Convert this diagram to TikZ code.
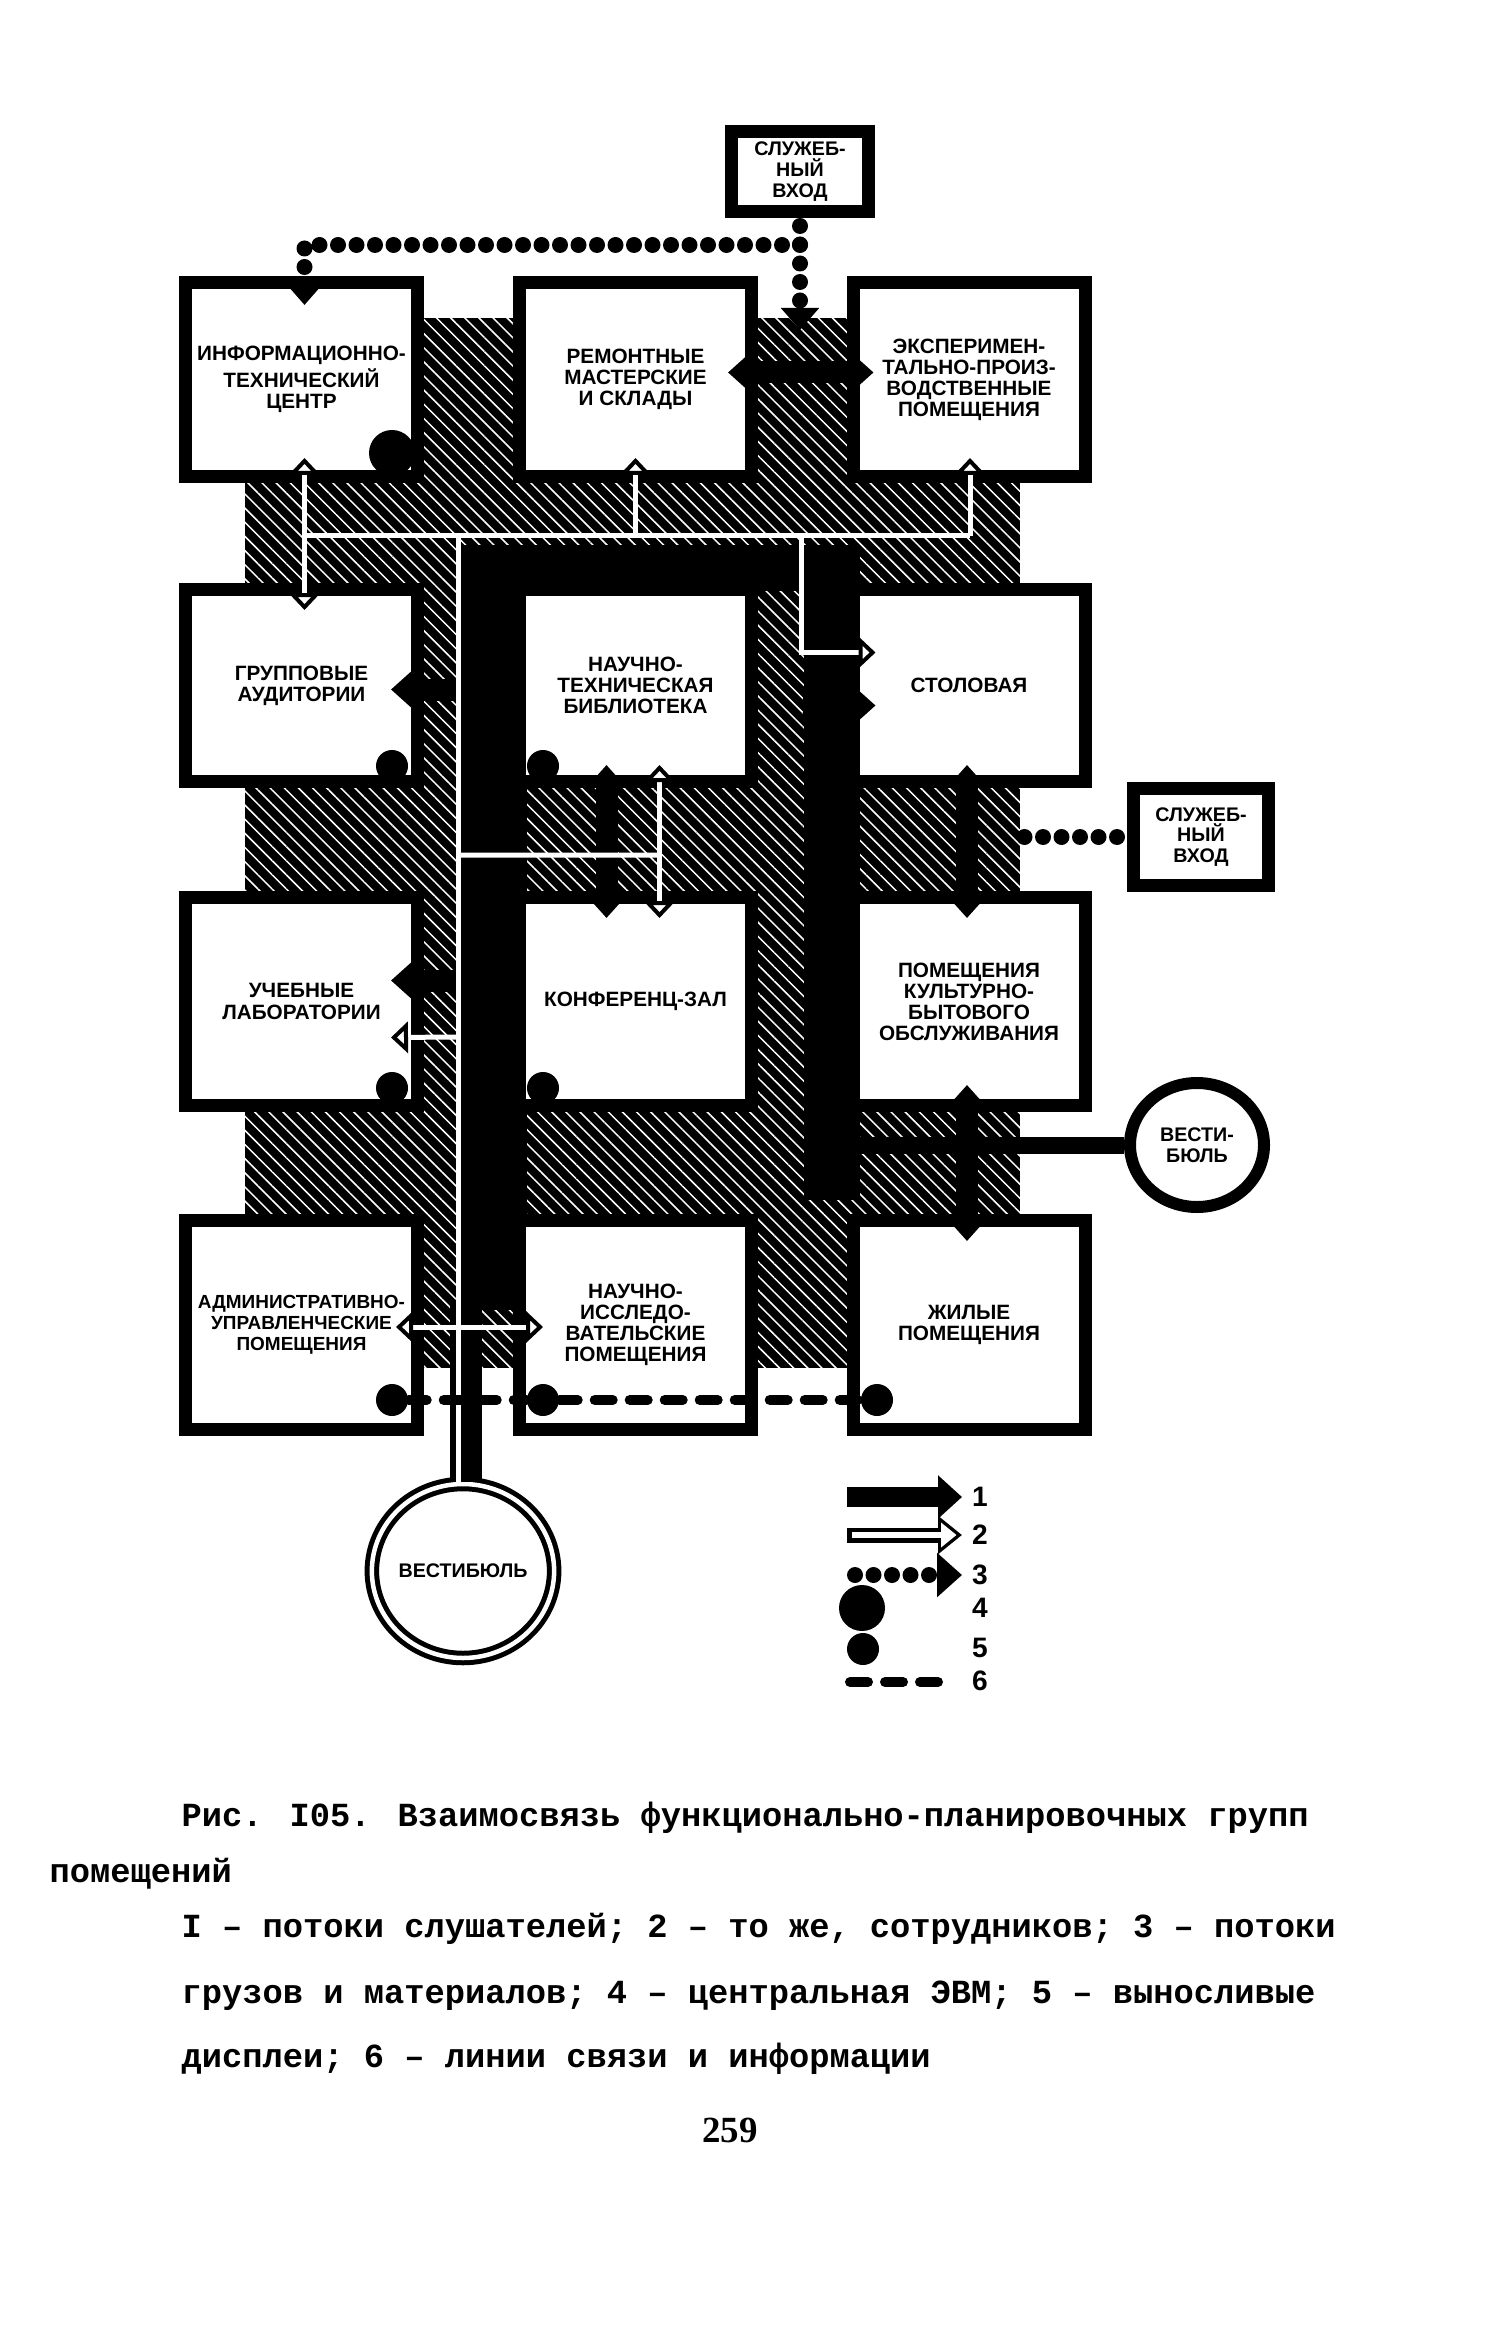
\documentclass[tikz,border=0pt]{standalone}
\usepackage{fontspec}
\newfontfamily\roomfont{Liberation Sans}
\newfontfamily\capfont{Liberation Mono}
\newfontfamily\pagefont{Liberation Serif}
\usetikzlibrary{arrows.meta,shapes.geometric,calc,patterns.meta}

\begin{document}
\begin{tikzpicture}[
    x=0.1mm, y=-0.1mm,
    room/.style={draw, line width=1.3mm, fill=white, minimum width=23.2mm,
                 align=center, inner sep=0pt,
                 font=\roomfont\bfseries\fontsize{5.9}{6}\selectfont},
    entrybox/.style={draw, line width=1.3mm, fill=white, align=center, inner sep=0pt,
                 font=\roomfont\bfseries\fontsize{5.6}{5.9}\selectfont},
    hall/.style={ellipse, draw, fill=white, align=center, inner sep=0pt,
                 font=\roomfont\bfseries\fontsize{5.6}{5.9}\selectfont},
    hatch/.style={pattern={Lines[angle=-45,distance=1mm,line width=0.15mm]},
                  pattern color=white},
    corridor/.style={draw=black, line width=#1},
    flowone/.style={draw=black, line width=2.2mm, -{Triangle[length=2.2mm,width=3.8mm]}},
    flowboth/.style={draw=black, line width=2.2mm,
                 {Triangle[length=2.2mm,width=3.8mm]}-{Triangle[length=2.2mm,width=3.8mm]}},
    flowtwoline/.style={draw=white, line width=0.5mm},
    flowtwo/.style={draw=white, line width=0.5mm,
                 -{Triangle[length=1.7mm,width=3.1mm,color=black,fill=white,line width=0.4mm]}},
    flowtwoboth/.style={draw=white, line width=0.5mm,
                 {Triangle[length=1.7mm,width=3.1mm,color=black,fill=white,line width=0.4mm]}-{Triangle[length=1.7mm,width=3.1mm,color=black,fill=white,line width=0.4mm]}},
    cargo/.style={draw=black, line width=1.6mm, line cap=round, dash pattern=on 0pt off 1.85mm},
    cargotip/.style={cargo, -{Triangle[length=2.2mm,width=3.7mm]}},
    display/.style={circle, fill=black, minimum size=3.2mm, inner sep=0pt},
    computer/.style={circle, fill=black, minimum size=4.6mm, inner sep=0pt},
    infoline/.style={draw=black, line width=1mm, line cap=round, dash pattern=on 1.8mm off 1.7mm},
    legcase/.style={draw=black, line width=1.5mm, -{Triangle[length=2.4mm,width=3.7mm]}},
    legfill/.style={draw=white, line width=0.6mm, shorten <=0.45mm, shorten >=0.55mm,
                 -{Triangle[length=1.55mm,width=2.4mm]}},
    legendno/.style={inner sep=0pt, font=\roomfont\bfseries\fontsize{8}{9}\selectfont},
    caption/.style={anchor=base west, inner sep=0pt,
                 font=\capfont\bfseries\fontsize{9.6}{12}\selectfont}
]
\useasboundingbox (0,0) rectangle (1510,2328);
\fill[white] (0,0) rectangle (1510,2328);

% hatched zone behind the rooms
\fill[black] (245,318) rectangle (1020,1368);
\fill[hatch] (245,318) rectangle (1020,1368);

% main corridors of the students' flow
\coordinate (mainTop) at (493,545);
\coordinate (mainBot) at (493,1310);
\coordinate (rightTop) at (832,545);
\coordinate (rightBot) at (832,1200);
\coordinate (linkL) at (460,568);
\coordinate (linkR) at (860,568);
\draw[corridor=6.7mm] (mainTop) -- (mainBot);
\draw[corridor=5.6mm] (rightTop) -- (rightBot);
\draw[corridor=4.6mm] (linkL) -- (linkR);

% rooms
\node[room, minimum height=19.4mm] (r1c1) at (301.5,379.5) {ИНФОРМАЦИОННО-\\ТЕХНИЧЕСКИЙ\\ЦЕНТР};
\node[room, minimum height=19.4mm] (r1c2) at (635.5,379.5) {РЕМОНТНЫЕ\\МАСТЕРСКИЕ\\И СКЛАДЫ};
\node[room, minimum height=19.4mm] (r1c3) at (969,379.5) {ЭКСПЕРИМЕН-\\ТАЛЬНО-ПРОИЗ-\\ВОДСТВЕННЫЕ\\ПОМЕЩЕНИЯ};
\node[room, minimum height=19.2mm] (r2c1) at (301.5,685.5) {ГРУППОВЫЕ\\АУДИТОРИИ};
\node[room, minimum height=19.2mm] (r2c2) at (635.5,685.5) {НАУЧНО-\\ТЕХНИЧЕСКАЯ\\БИБЛИОТЕКА};
\node[room, minimum height=19.2mm] (r2c3) at (969,685.5) {СТОЛОВАЯ};
\node[room, minimum height=20.8mm] (r3c1) at (301.5,1001.5) {УЧЕБНЫЕ\\ЛАБОРАТОРИИ};
\node[room, minimum height=20.8mm] (r3c2) at (635.5,1001.5) {КОНФЕРЕНЦ-ЗАЛ};
\node[room, minimum height=20.8mm] (r3c3) at (969,1001.5) {ПОМЕЩЕНИЯ\\КУЛЬТУРНО-\\БЫТОВОГО\\ОБСЛУЖИВАНИЯ};
\node[room, minimum height=20.9mm, font=\roomfont\bfseries\fontsize{5.4}{6}\selectfont] (r4c1) at (301.5,1325) {АДМИНИСТРАТИВНО-\\УПРАВЛЕНЧЕСКИЕ\\ПОМЕЩЕНИЯ};
\node[room, minimum height=20.9mm] (r4c2) at (635.5,1325) {НАУЧНО-\\ИССЛЕДО-\\ВАТЕЛЬСКИЕ\\ПОМЕЩЕНИЯ};
\node[room, minimum height=20.9mm] (r4c3) at (969,1325) {ЖИЛЫЕ\\ПОМЕЩЕНИЯ};

% entrances and halls
\node[entrybox, minimum width=13.7mm, minimum height=8mm] (topentry) at (800,171.5) {СЛУЖЕБ-\\НЫЙ\\ВХОД};
\node[entrybox, minimum width=13.5mm, minimum height=9.7mm] (sideentry) at (1201,837) {СЛУЖЕБ-\\НЫЙ\\ВХОД};
\node[hall, line width=1.2mm, minimum width=13.4mm, minimum height=12.4mm] (vestE) at (1197,1145) {ВЕСТИ-\\БЮЛЬ};
\node[hall, double, line width=0.5mm, double distance=0.45mm,
      minimum width=16.5mm, minimum height=17.4mm] (vestS) at (463,1571) {ВЕСТИБЮЛЬ};

% students (1)
\coordinate (stemTop) at (466,1300);
\draw[corridor=3.2mm] (stemTop) -- (vestS.north -| stemTop);
\coordinate (rightBar) at (832,1145);
\draw[corridor=1.7mm] (rightBar) -- (vestE.west);
\draw[flowone] ($(r2c1.east)+(35,4)$) -- ($(r2c1.east)+(-33,4)$);
\draw[flowone] ($(r3c1.east)+(35,-21)$) -- ($(r3c1.east)+(-33,-21)$);
\draw[flowboth] ($(r2c2.south)+(-29,-23)$) -- ($(r3c2.north)+(-29,27)$);
\draw[flowone] ($(r2c3.west)+(-44,20)$) -- ($(r2c3.west)+(29,20)$);
\draw[flowboth] ($(r2c3.south)+(-2,-23)$) -- ($(r3c3.north)+(-2,27)$);
\draw[flowboth] ($(r3c3.south)+(-2,-27)$) -- ($(r4c3.north)+(-2,27)$);

% staff (2)
\coordinate (wA) at (304,536);
\coordinate (wB) at (970,536);
\coordinate (wC) at (801,536);
\coordinate (wD) at (458,536);
\coordinate (wE) at (458,1037);
\coordinate (wF) at (458,855);
\draw[flowtwoboth] ($(r1c1.south)+(3,-25)$) -- ($(r2c1.north)+(3,27)$);
\draw[flowtwoline] (wA) -- (wB);
\draw[flowtwo] (r1c2.south |- wA) -- ($(r1c2.south)+(0,-25)$);
\draw[flowtwo] (wB) -- ($(r1c3.south)+(1,-25)$);
\draw[flowtwo] (wC) |- ($(r2c3.west)+(29,-33)$);
\draw[flowtwoline] (wD) -- (vestS.north -| wD);
\draw[flowtwoline] (wF) -- ($(r2c2.south)+(24,67)$);
\draw[flowtwoboth] ($(r2c2.south)+(24,-23)$) -- ($(r3c2.north)+(24,27)$);
\draw[flowtwo] (wE) -- ($(r3c1.east)+(-33,36)$);
\draw[flowtwoboth] ($(r4c1.east)+(-28,2)$) -- ($(r4c2.west)+(30,2)$);

% goods and materials (3)
\coordinate (cargoJ) at (800,245);
\coordinate (cargoDrop) at (800,330);
\coordinate (cargoEdge) at (1015,837);
\draw[cargotip] ($(topentry.south)+(0,8)$) -- (cargoJ) -| ($(r1c1.north)+(3,29)$);
\draw[cargotip] (cargoJ) -- (cargoDrop);
\draw[flowboth] ($(r1c2.east)+(-30,-7)$) -- ($(r1c3.west)+(27,-7)$);
\draw[cargo] ($(sideentry.west)+(-10,0)$) -- (cargoEdge);

% computer (4), displays (5), information lines (6)
\node[computer] (ebm) at (392,453) {};
\node[display] (dA) at (392,766) {};
\node[display] (dB) at (543,766) {};
\node[display] (dC) at (392,1088) {};
\node[display] (dD) at (543,1088) {};
\node[display] (dE) at (392,1400) {};
\node[display] (dF) at (543,1400) {};
\node[display] (dG) at (877,1400) {};
\draw[infoline] (dE) -- (dF) -- (dG);

% legend
\coordinate (lOneA) at (847,1497);
\coordinate (lOneB) at (962,1497);
\coordinate (lTwoA) at (847,1535);
\coordinate (lTwoB) at (962,1535);
\coordinate (lThreeA) at (855,1575);
\coordinate (lThreeB) at (962,1575);
\coordinate (lSixA) at (850,1682);
\coordinate (lSixB) at (943,1682);
\draw[draw=black, line width=2mm, -{Triangle[length=2.4mm,width=4.2mm]}] (lOneA) -- (lOneB);
\draw[legcase] (lTwoA) -- (lTwoB);
\draw[legfill] (lTwoA) -- (lTwoB);
\draw[cargo, -{Triangle[length=2.5mm,width=4.3mm]}] (lThreeA) -- (lThreeB);
\node[computer] (legFour) at (862,1608) {};
\node[display] (legFive) at (863,1649) {};
\draw[infoline] (lSixA) -- (lSixB);
\node[legendno] (nOne) at (980,1497) {1};
\node[legendno] (nTwo) at (980,1535) {2};
\node[legendno] (nThree) at (980,1575) {3};
\node[legendno] (nFour) at (980,1608) {4};
\node[legendno] (nFive) at (980,1648) {5};
\node[legendno] (nSix) at (980,1681) {6};

% caption
\node[caption] (capA) at (181,1826) {Рис. I05. Взаимосвязь функционально-планировочных групп};
\node[caption] (capB) at (49,1882) {помещений};
\node[caption] (capC) at (181,1937) {I – потоки слушателей; 2 – то же, сотрудников; 3 – потоки};
\node[caption] (capD) at (181,2003) {грузов и материалов; 4 – центральная ЭВМ; 5 – выносливые};
\node[caption] (capE) at (181,2067) {дисплеи; 6 – линии связи и информации};
\node[anchor=base, inner sep=0pt, font=\pagefont\bfseries\fontsize{10.5}{12}\selectfont] (pageno) at (730,2142) {259};
\end{tikzpicture}
\end{document}
